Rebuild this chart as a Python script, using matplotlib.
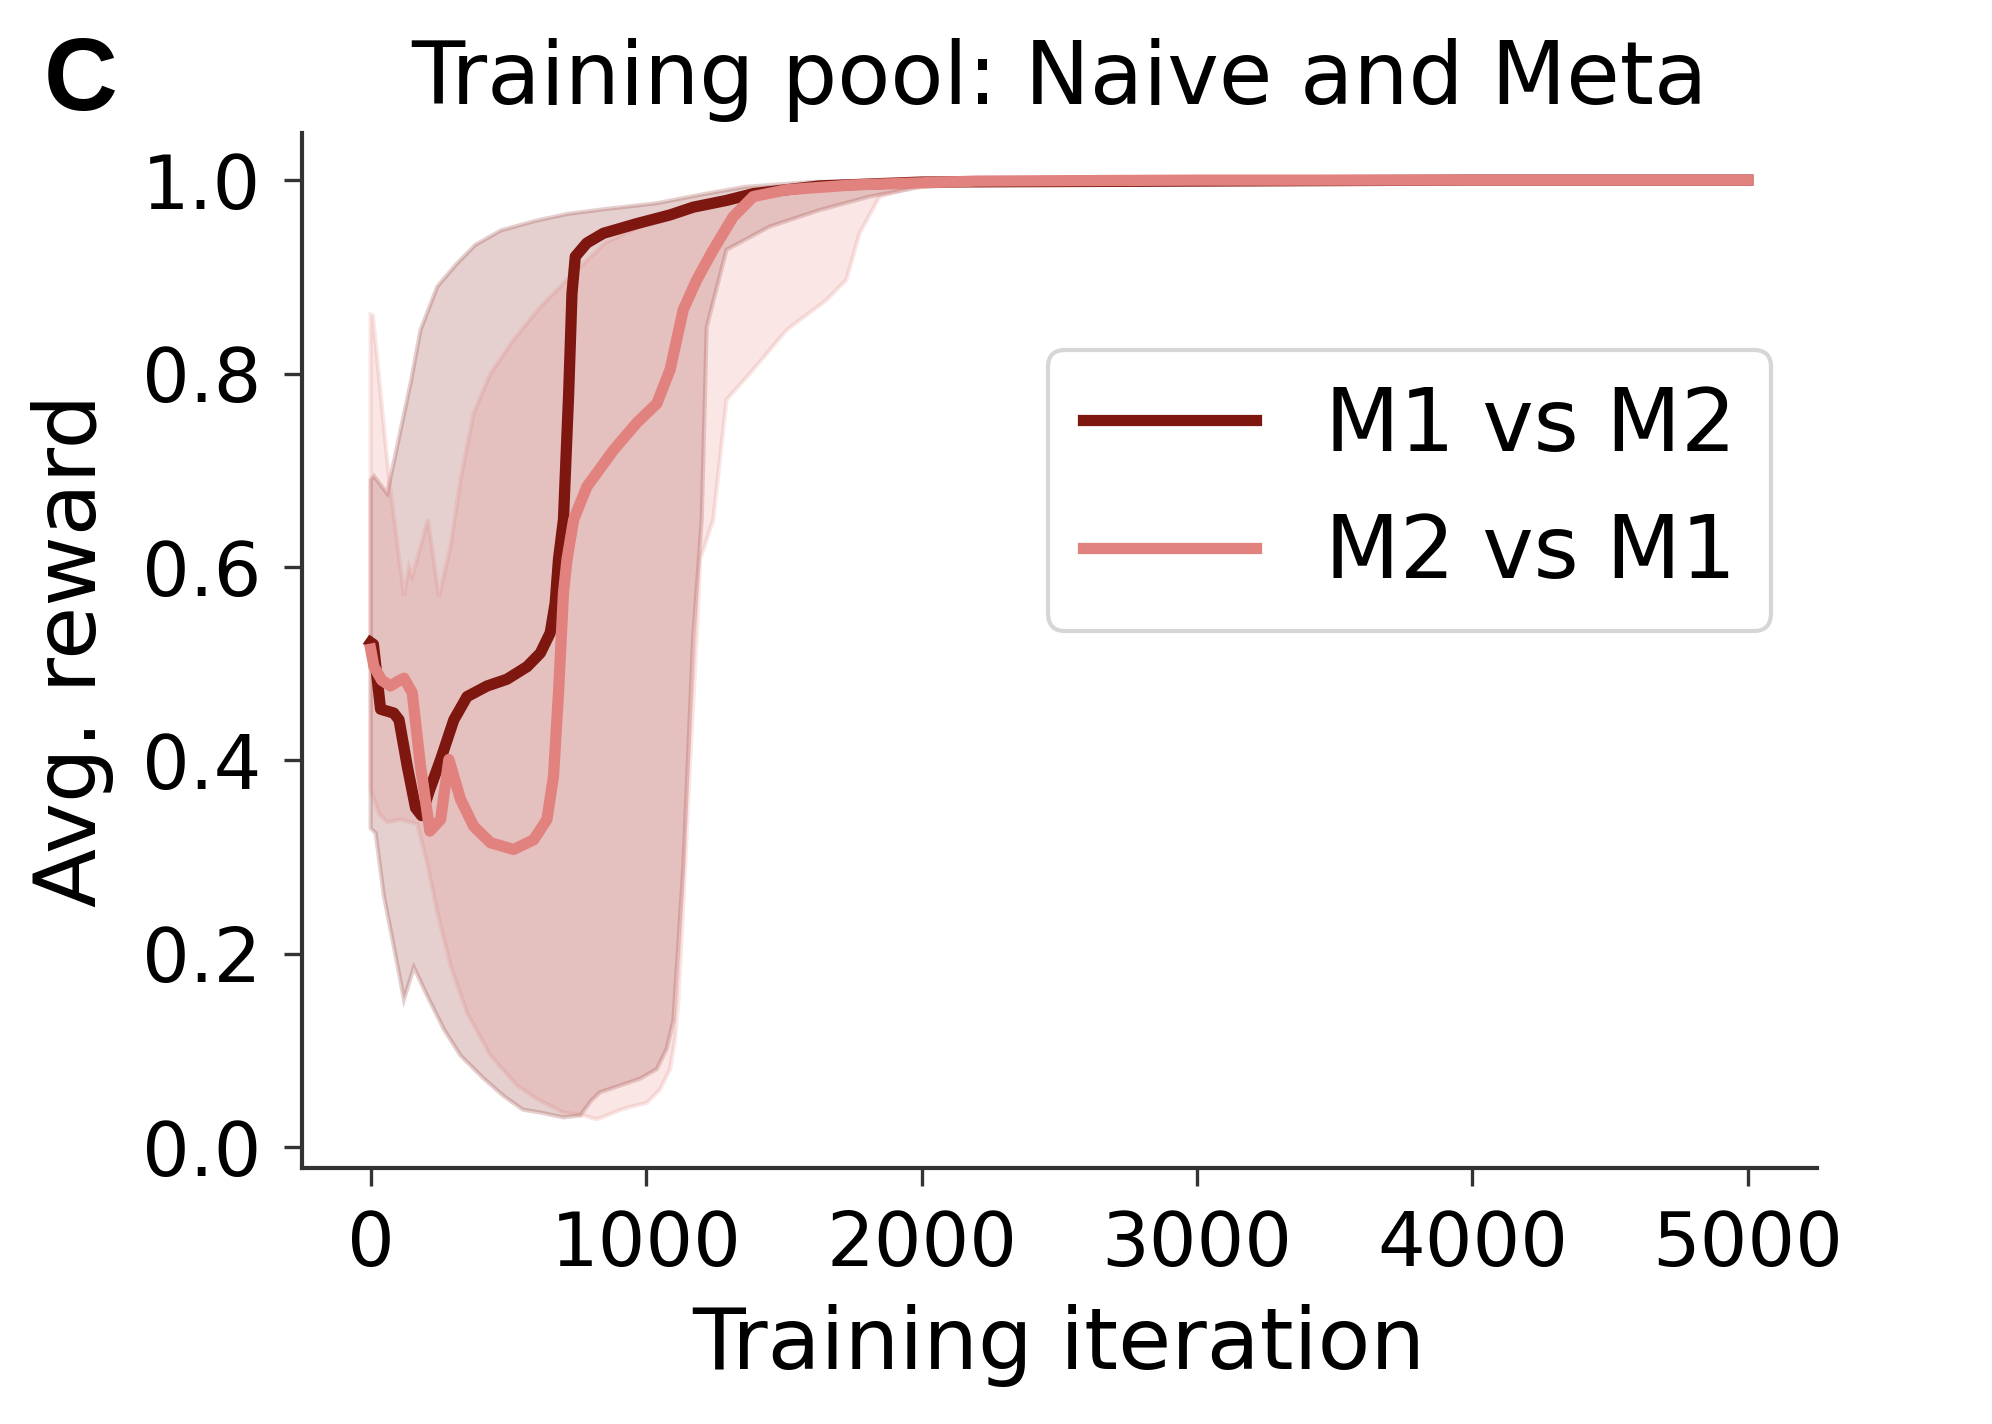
import numpy as np
import matplotlib
matplotlib.use("Agg")
import matplotlib.pyplot as plt

# colours of the two match-ups
dark_red = "#7d1710"
light_red = "#e2827f"

# M1 vs M2 : mean curve
m1_x = [0, 10, 36, 84, 103, 133, 163, 185, 211, 254, 302, 350, 423, 495, 568, 616,
        652, 670, 682, 700, 719, 731, 743, 785, 845, 966, 1087, 1171, 1292, 1389,
        1630, 2000, 3000, 4000, 5000]
m1_y = [0.522, 0.52, 0.453, 0.449, 0.442, 0.394, 0.351, 0.343, 0.367, 0.401, 0.442,
        0.466, 0.477, 0.484, 0.497, 0.511, 0.532, 0.563, 0.608, 0.649, 0.78, 0.883,
        0.921, 0.935, 0.945, 0.955, 0.964, 0.972, 0.979, 0.986, 0.994, 0.998, 0.999,
        1.0, 1.0]

# M1 vs M2 : band
m1_up_x = [0, 12, 60, 109, 145, 181, 242, 311, 380, 473, 600, 714, 850, 1037, 1200,
           1359, 1600, 2000, 3000, 5000]
m1_up_y = [0.69, 0.694, 0.676, 0.742, 0.79, 0.845, 0.89, 0.913, 0.933, 0.948, 0.958,
           0.965, 0.97, 0.976, 0.985, 0.993, 0.998, 1.0, 1.0, 1.0]
m1_lo_x = [0, 18, 48, 84, 121, 157, 205, 266, 326, 411, 483, 553, 616, 700, 761, 800,
           833, 906, 978, 1039, 1075, 1099, 1117, 1135, 1153, 1171, 1202, 1220, 1292,
           1449, 1630, 1812, 2000, 2500, 3000, 5000]
m1_lo_y = [0.33, 0.325, 0.26, 0.208, 0.153, 0.186, 0.157, 0.122, 0.095, 0.071, 0.053,
           0.039, 0.036, 0.031, 0.033, 0.048, 0.057, 0.064, 0.071, 0.081, 0.102, 0.131,
           0.21, 0.29, 0.409, 0.528, 0.649, 0.848, 0.928, 0.952, 0.969, 0.983, 0.993,
           0.999, 1.0, 1.0]

# M2 vs M1 : mean curve
m2_x = [0, 12, 40, 72, 100, 121, 151, 181, 215, 254, 284, 326, 374, 435, 519, 592,
        640, 664, 682, 700, 713, 737, 785, 882, 966, 1039, 1087, 1135, 1184, 1244,
        1316, 1389, 1510, 1751, 2200, 3000, 4000, 5000]
m2_y = [0.515, 0.497, 0.483, 0.477, 0.482, 0.485, 0.47, 0.394, 0.327, 0.339, 0.401,
        0.36, 0.332, 0.315, 0.308, 0.318, 0.339, 0.384, 0.47, 0.573, 0.608, 0.649,
        0.683, 0.721, 0.749, 0.769, 0.804, 0.866, 0.897, 0.928, 0.962, 0.983, 0.99,
        0.995, 0.999, 1.0, 1.0, 1.0]

# M2 vs M1 : band
m2_up_x = [0, 8, 66, 121, 139, 151, 208, 248, 290, 326, 374, 435, 519, 616, 713, 850,
           1000, 1200, 1400, 1700, 2000, 3000, 5000]
m2_up_y = [0.861, 0.86, 0.694, 0.57, 0.60, 0.59, 0.649, 0.57, 0.621, 0.69, 0.759, 0.80,
           0.835, 0.869, 0.897, 0.935, 0.955, 0.975, 0.99, 0.998, 1.0, 1.0, 1.0]
m2_lo_x = [0, 30, 60, 109, 169, 205, 242, 290, 350, 435, 531, 604, 700, 773, 821, 918,
           1002, 1051, 1087, 1105, 1117, 1135, 1160, 1184, 1196, 1244, 1292, 1389, 1510,
           1655, 1727, 1775, 1848, 2000, 2300, 3000, 5000]
m2_lo_y = [0.37, 0.345, 0.336, 0.339, 0.334, 0.294, 0.243, 0.188, 0.139, 0.095, 0.064,
           0.05, 0.036, 0.033, 0.029, 0.04, 0.046, 0.06, 0.081, 0.112, 0.151, 0.25, 0.4,
           0.528, 0.608, 0.649, 0.773, 0.804, 0.845, 0.876, 0.897, 0.945, 0.983, 0.995,
           0.999, 1.0, 1.0]

x_ticks = [0, 1000, 2000, 3000, 4000, 5000]
y_ticks = [0.0, 0.2, 0.4, 0.6, 0.8, 1.0]

fig = plt.figure(figsize=(6.64, 4.7467), dpi=300)
ax = fig.add_axes([0.1515, 0.18, 0.7605, 0.7268])


def band(xu, yu, xl, yl, col):
    # polygon: upper edge forward, lower edge back
    px = np.concatenate([xu, xl[::-1]])
    py = np.concatenate([yu, yl[::-1]])
    ax.fill(px, py, color=col, alpha=0.2, lw=1.0)


band(np.array(m1_up_x), np.array(m1_up_y), np.array(m1_lo_x), np.array(m1_lo_y), dark_red)
band(np.array(m2_up_x), np.array(m2_up_y), np.array(m2_lo_x), np.array(m2_lo_y), light_red)
ax.plot(m1_x, m1_y, color=dark_red, lw=2.7, label="M1 vs M2")
ax.plot(m2_x, m2_y, color=light_red, lw=2.7, label="M2 vs M1")

ax.set_xlim(-250, 5250)
ax.set_ylim(-0.021, 1.049)
ax.set_xticks(x_ticks)
ax.set_yticks(y_ticks)
ax.set_yticklabels([f"{v:.1f}" for v in y_ticks])

for s in ["top", "right"]:
    ax.spines[s].set_visible(False)
for s in ["left", "bottom"]:
    ax.spines[s].set_color("0.2")
    ax.spines[s].set_linewidth(1.0)
ax.tick_params(axis="both", labelsize=18, length=4.3, width=0.8, color="0.2", pad=5.5)

ax.set_xlabel("Training iteration", fontsize=20.7, labelpad=5.5)
ax.set_ylabel("Avg. reward", fontsize=20.7, labelpad=6.5)
ax.set_title("Training pool: Naive and Meta", fontsize=20.9, pad=7)

ax.legend(loc="upper right", bbox_to_anchor=(0.97, 0.79), borderaxespad=0,
          fontsize=20.8, handlelength=2.0)

fig.text(0.022, 0.923, "C", fontsize=24.5, fontweight="bold",
         family="Liberation Sans", ha="left", va="baseline")

fig.savefig("out.png", dpi=300)
